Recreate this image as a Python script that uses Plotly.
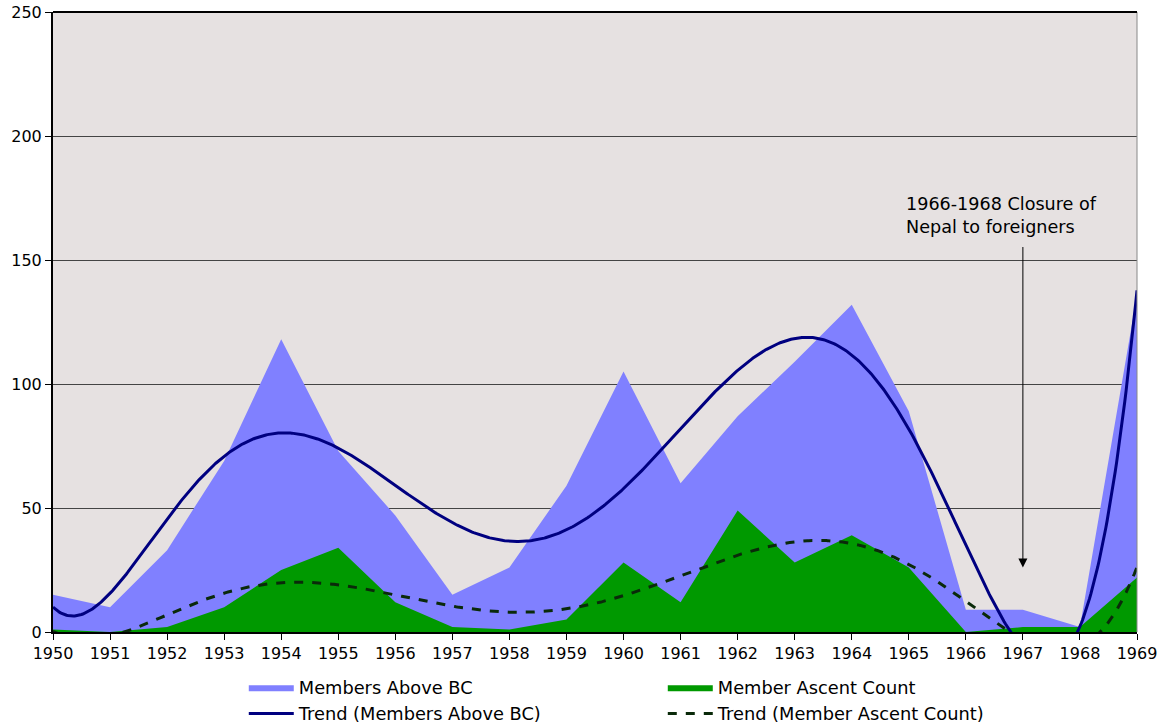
import numpy as np
import plotly.graph_objects as go

years = list(range(1950, 1970))
members_above_bc = [15, 10, 33, 69, 118, 73, 47, 15, 26, 59, 105, 60, 87, 109, 132, 89, 9, 9, 2, 136]
member_ascents = [1, 0, 2, 10, 25, 34, 12, 2, 1, 5, 28, 12, 49, 28, 39, 26, 0, 2, 2, 22]
y_ticks = [0, 50, 100, 150, 200, 250]

FONT = "DejaVu Sans"

# Polynomial (order 6) trend lines, as a spreadsheet trendline would compute them
t = np.arange(1, len(years) + 1)
t_fine = np.linspace(1, len(years), 800)
x_fine = t_fine + years[0] - 1
trend_members = np.polyval(np.polyfit(t, members_above_bc, 6), t_fine)
trend_ascents = np.polyval(np.polyfit(t, member_ascents, 6), t_fine)

fig = go.Figure()
fig.add_trace(go.Scatter(x=years, y=members_above_bc, name="Members Above BC",
                         mode="lines", line=dict(width=0, color="#8080FF"),
                         fill="tozeroy", fillcolor="#8080FF"))
fig.add_trace(go.Scatter(x=years, y=member_ascents, name="Member Ascent Count",
                         mode="lines", line=dict(width=0, color="#009900"),
                         fill="tozeroy", fillcolor="#009900"))
fig.add_trace(go.Scatter(x=x_fine, y=trend_members, name="Trend (Members Above BC)",
                         mode="lines", line=dict(width=3, color="#000080")))
fig.add_trace(go.Scatter(x=x_fine, y=trend_ascents, name="Trend (Member Ascent Count)",
                         mode="lines", line=dict(width=3, color="#0A2A0A", dash="dash")))

fig.add_annotation(x=1967, y=26, xref="x", yref="y", ax=0, ay=-322, text="",
                   showarrow=True, arrowhead=2, arrowsize=1.8, arrowwidth=1, arrowcolor="black")
fig.add_annotation(x=1966.63, y=168, xref="x", yref="y", showarrow=False,
                   text="1966-1968 Closure of<br>Nepal to foreigners", align="left",
                   font=dict(family=FONT, size=17.6, color="black"))

fig.update_layout(
    width=1162, height=726,
    margin=dict(l=53, r=25, t=12, b=94, autoexpand=False),
    paper_bgcolor="white", plot_bgcolor="#E6E1E1",
    font=dict(family=FONT, size=15, color="black"),
    showlegend=True,
    legend=dict(orientation="h", x=0.176, y=-0.060, itemwidth=45,
                xanchor="left", yanchor="top", entrywidth=359, tracegroupgap=0,
                font=dict(family=FONT, size=17.8, color="black"), bgcolor="rgba(0,0,0,0)"),
    xaxis=dict(range=[1950, 1969], tickmode="array", tickvals=years, ticks="outside",
               ticklen=6, tickcolor="black", showgrid=False, showline=True, linecolor="black",
               linewidth=2, zeroline=False, tickfont=dict(size=16)),
    yaxis=dict(range=[0, 250], tickmode="array", tickvals=y_ticks, ticks="outside",
               ticklen=6, tickcolor="black", showgrid=True, gridcolor="#444444", gridwidth=1,
               showline=True, linecolor="black", linewidth=2, zeroline=False,
               tickfont=dict(size=16)),
)
fig.add_shape(type="line", xref="paper", yref="paper", x0=1, x1=1, y0=0, y1=1,
              line=dict(color="#888888", width=1))
fig.add_shape(type="line", xref="paper", yref="paper", x0=0, x1=1, y0=1, y1=1,
              line=dict(color="black", width=2))

fig.write_html("out.html", config={"displayModeBar": False},
               post_script="document.body.style.margin='0';document.body.style.overflow='hidden';")
